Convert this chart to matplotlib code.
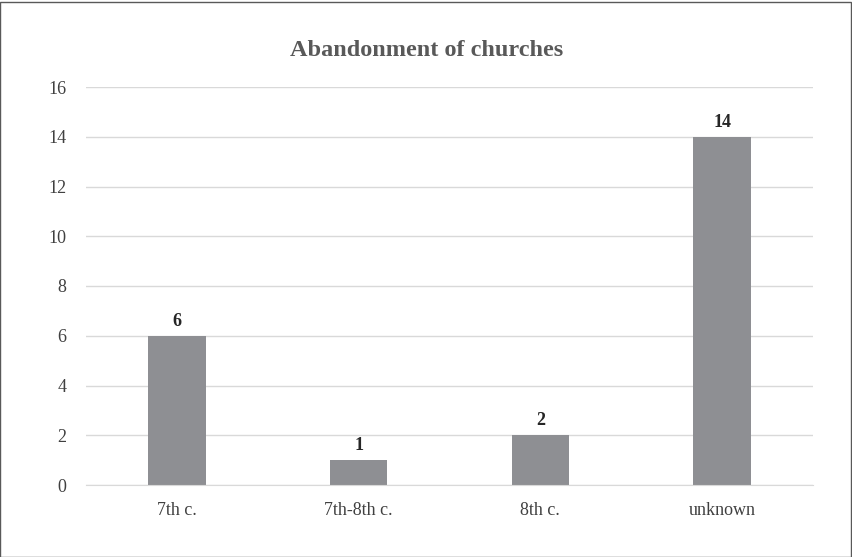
import matplotlib
matplotlib.use("Agg")
import matplotlib.pyplot as plt
from matplotlib.patches import Rectangle

categories = ["7th c.", "7th-8th c.", "8th c.", "unknown"]
values = [6, 1, 2, 14]
yticks = [0, 2, 4, 6, 8, 10, 12, 14, 16]

plt.rcParams['font.family'] = ['Liberation Serif', 'DejaVu Serif']

fig = plt.figure(figsize=(8.53, 5.57), dpi=100)
ax = fig.add_axes([86/853, 1-485/557, (813-86)/853, (485-87)/557])

x = range(len(categories))
ax.bar(x, values, width=0.315, color="#8E8F93", zorder=3)
for xi, v in zip(x, values):
    ax.text(xi, v + 0.24, str(v), ha="center", va="bottom", fontsize=13,
            fontweight="bold", color="#262626")

ax.set_xlim(-0.5, len(categories) - 0.5)
ax.set_ylim(0, 16)
ax.set_yticks(yticks)
ax.set_xticks(list(x))
ax.set_xticklabels(categories)
ax.tick_params(axis="both", length=0, labelsize=13, colors="#404040")
ax.tick_params(axis="y", pad=14)
ax.tick_params(axis="x", pad=12)
ax.grid(axis="y", color="#D9D9D9", linewidth=1, zorder=0)
for s in ["top", "right", "left"]:
    ax.spines[s].set_visible(False)
ax.spines["bottom"].set_color("#D9D9D9")
ax.spines["bottom"].set_zorder(4)

fig.text(0.5, 1 - 50/557, "Abandonment of churches", ha="center", va="center",
         fontsize=17.5, fontweight="bold", color="#595959")

fig.patches.append(Rectangle((0.5/853, 0.5/557), 1 - 2/853, 1 - 2/557,
                             transform=fig.transFigure, fill=False,
                             edgecolor="#595959", linewidth=1))

fig.savefig("out.png", dpi=100)
